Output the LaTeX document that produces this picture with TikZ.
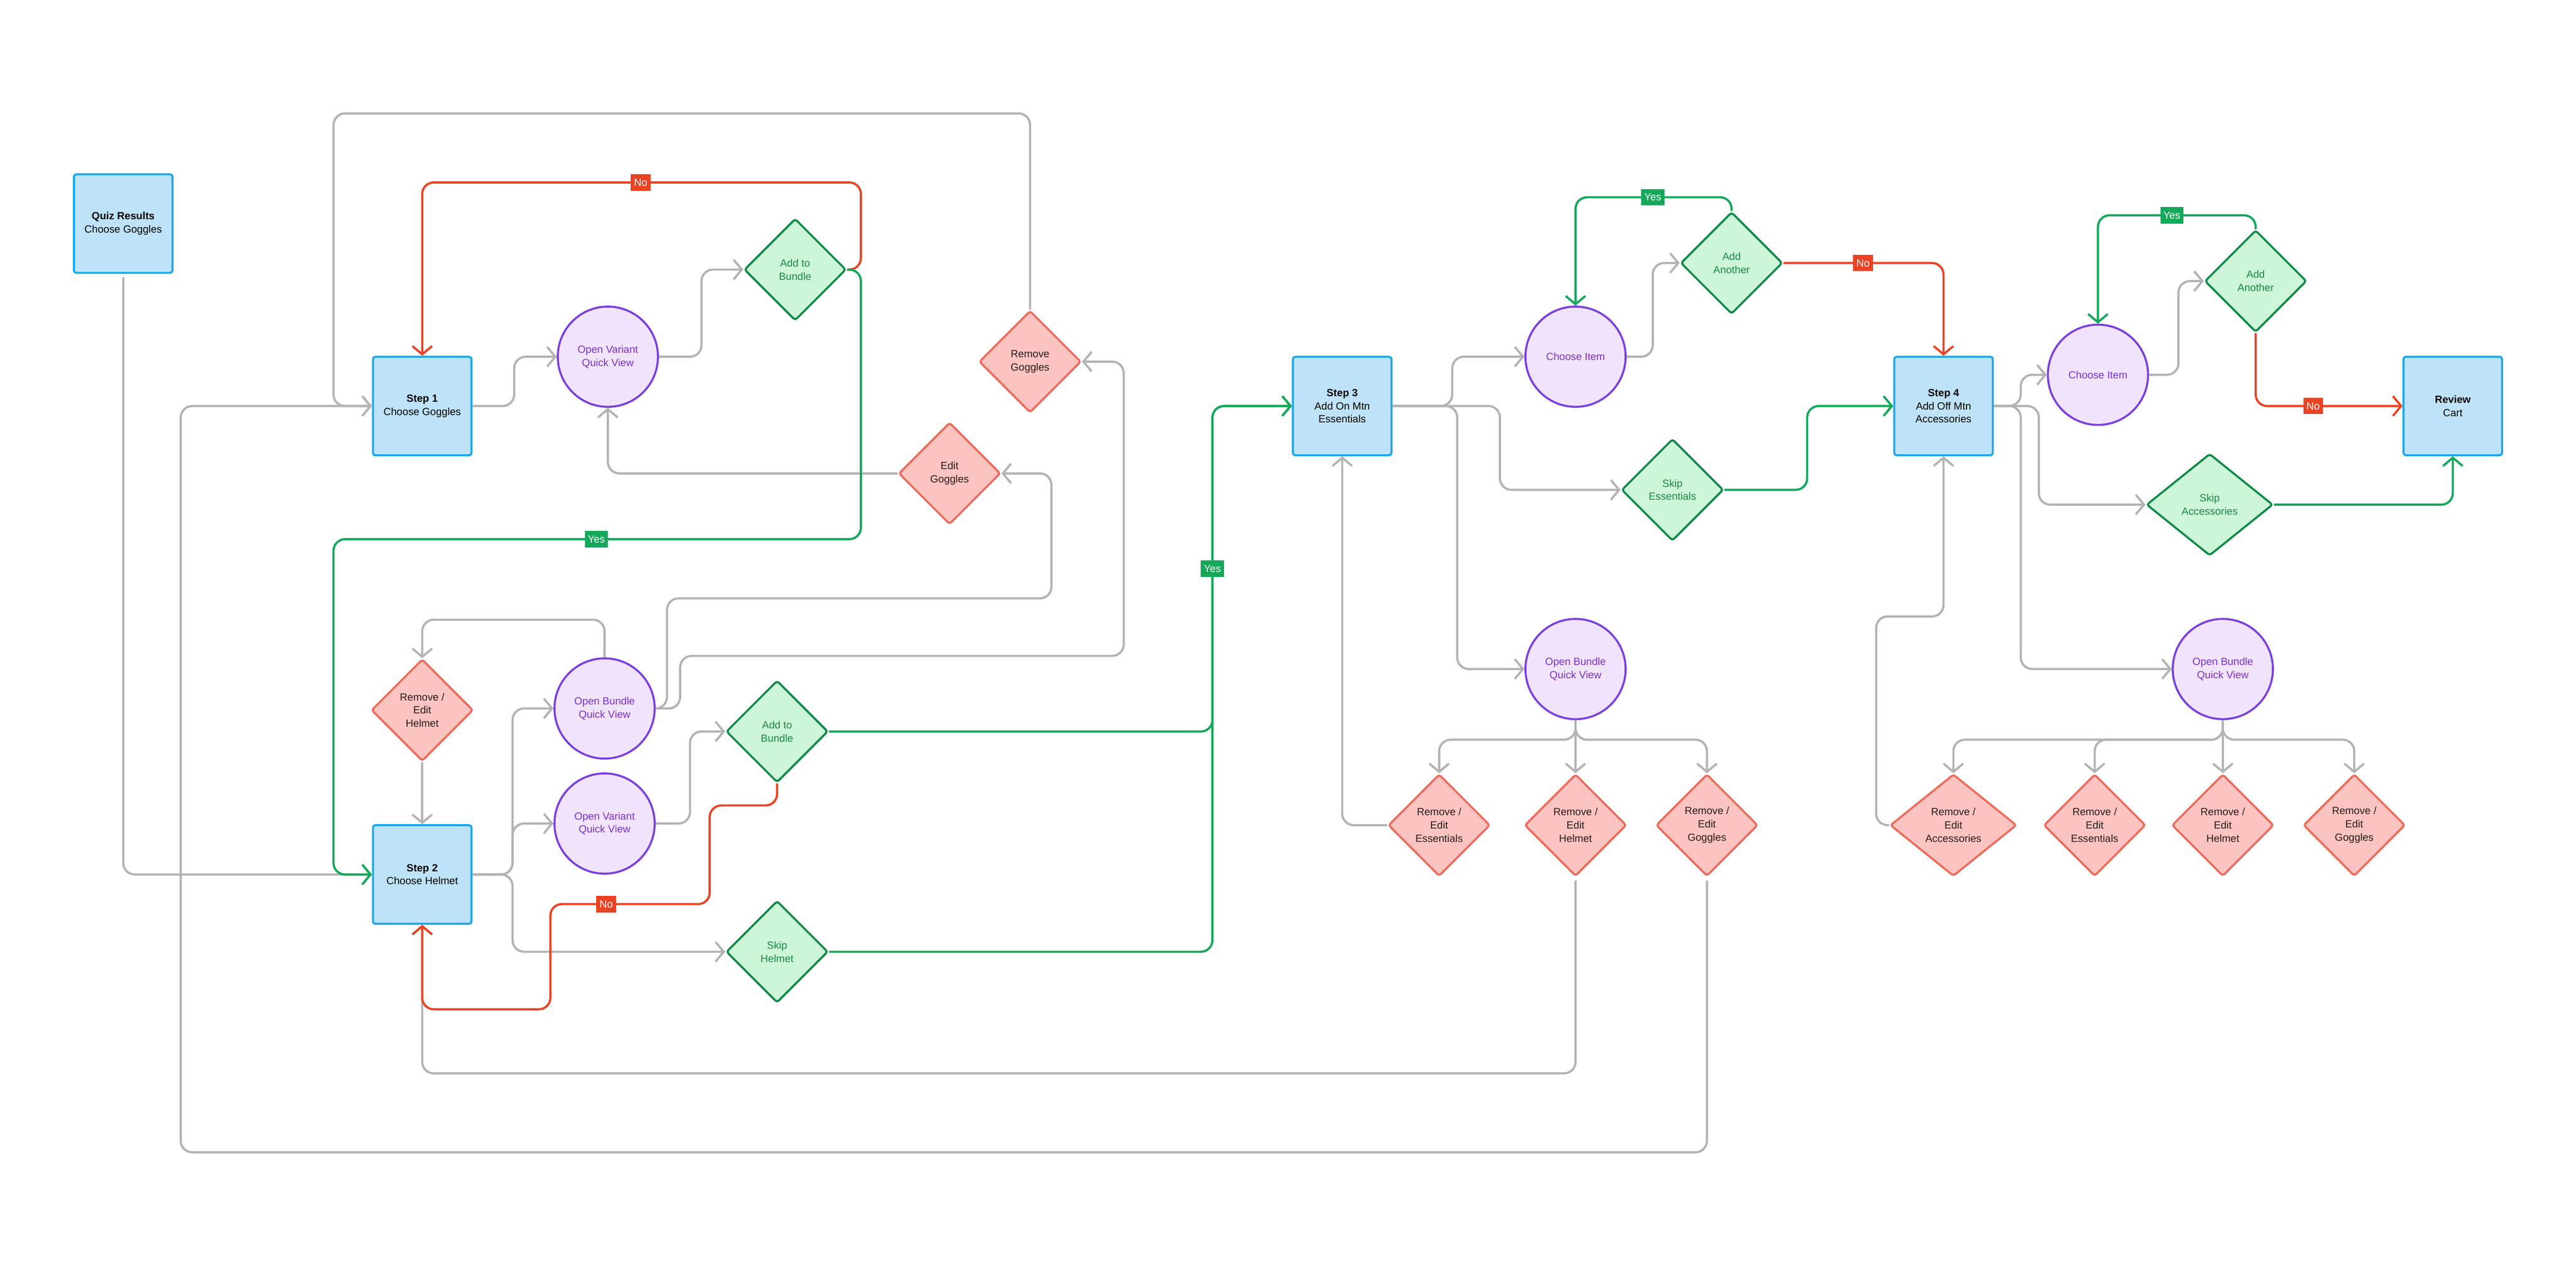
\documentclass[tikz,border=0pt]{standalone}
\usepackage{fontspec}
\setmainfont{Liberation Sans}
\usetikzlibrary{shapes.geometric,arrows.meta}
\definecolor{stepb}{HTML}{1EA7E8}\definecolor{stepf}{HTML}{BEE3F8}
\definecolor{viewb}{HTML}{7B3FE0}\definecolor{viewf}{HTML}{F0E4FD}\definecolor{viewt}{HTML}{7B2FD6}
\definecolor{goodb}{HTML}{0F8A47}\definecolor{goodf}{HTML}{CDF5D8}\definecolor{goodt}{HTML}{188A43}
\definecolor{badb}{HTML}{EF6A5A}\definecolor{badf}{HTML}{FBC4C1}\definecolor{badt}{HTML}{2A1A1A}
\definecolor{lg}{HTML}{B3B3B3}\definecolor{lr}{HTML}{EA4323}\definecolor{lgn}{HTML}{14A85A}
\tikzset{
 every node/.style={font=\fontsize{3.6}{4.6}\selectfont, align=center},
 stepbox/.style={rectangle, rounded corners=0.03cm, draw=stepb, fill=stepf, line width=0.7pt, minimum width=1.2cm, minimum height=1.2cm, inner sep=0},
 view/.style={circle, draw=viewb, fill=viewf, text=viewt, line width=0.7pt, minimum size=1.22cm, inner sep=0},
 good/.style={diamond, draw=goodb, fill=goodf, text=goodt, line width=0.7pt, minimum width=1.24cm, minimum height=1.24cm, inner sep=0, rounded corners=0.03cm},
 bad/.style={diamond, draw=badb, fill=badf, text=badt, line width=0.7pt, minimum width=1.24cm, minimum height=1.24cm, inner sep=0, rounded corners=0.03cm},
 lnk/.style={draw=lg, line width=0.75pt, rounded corners=0.14cm, -{Straight Barb[length=0.1cm,width=0.24cm]}},
 nolnk/.style={lnk, draw=lr}, yeslnk/.style={lnk, draw=lgn},
 tagno/.style={fill=lr, text=white, inner sep=0.6pt, minimum width=0.24cm, minimum height=0.2cm},
 tagyes/.style={fill=lgn, text=white, inner sep=0.6pt, minimum width=0.28cm, minimum height=0.2cm},
}
\begin{document}
\begin{tikzpicture}[x=0.02cm,y=-0.02cm]
\useasboundingbox (0,0) rectangle (1568,770.5);
% nodes
\node[stepbox] (qr) at (75,136) {\textbf{Quiz Results}\\Choose Goggles};
\node[stepbox] (s1) at (257,247) {\textbf{Step 1}\\Choose Goggles};
\node[view] (ov1) at (370,217) {Open Variant\\Quick View};
\node[good] (ab1) at (484,164) {Add to\\Bundle};
\node[bad] (rg) at (627,220) {Remove\\Goggles};
\node[bad] (eg) at (578,288) {Edit\\Goggles};
\node[bad] (reh) at (257,432) {Remove /\\Edit\\Helmet};
\node[stepbox] (s2) at (257,532) {\textbf{Step 2}\\Choose Helmet};
\node[view] (ob1) at (368,431) {Open Bundle\\Quick View};
\node[view] (ov2) at (368,501) {Open Variant\\Quick View};
\node[good] (ab2) at (473,445) {Add to\\Bundle};
\node[good] (sh) at (473,579) {Skip\\Helmet};
\node[stepbox] (s3) at (817,247) {\textbf{Step 3}\\Add On Mtn\\Essentials};
\node[view] (ci1) at (959,217) {Choose Item};
\node[good] (aa1) at (1054,160) {Add\\Another};
\node[good] (se) at (1018,298) {Skip\\Essentials};
\node[view] (ob2) at (959,407) {Open Bundle\\Quick View};
\node[bad] (r3e) at (876,502) {Remove /\\Edit\\Essentials};
\node[bad] (r3h) at (959,502) {Remove /\\Edit\\Helmet};
\node[bad] (r3g) at (1039,502) {Remove /\\Edit\\Goggles};
\node[stepbox] (s4) at (1183,247) {\textbf{Step 4}\\Add Off Mtn\\Accessories};
\node[view] (ci2) at (1277,228) {Choose Item};
\node[good] (aa2) at (1373,171) {Add\\Another};
\node[good, minimum width=1.54cm] (sa) at (1345,307) {Skip\\Accessories};
\node[stepbox] (rc) at (1493,247) {\textbf{Review}\\Cart};
\node[view] (ob3) at (1353,407) {Open Bundle\\Quick View};
\node[bad, minimum width=1.54cm] (r4a) at (1189,502) {Remove /\\Edit\\Accessories};
\node[bad] (r4e) at (1275,502) {Remove /\\Edit\\Essentials};
\node[bad] (r4h) at (1353,502) {Remove /\\Edit\\Helmet};
\node[bad] (r4g) at (1433,502) {Remove /\\Edit\\Goggles};
% gray links
\draw[lnk] ([yshift=-0.04cm]qr.south) -- (75,532) -- (s2.west);
\draw[lnk] (s1.east) -- (313,247) |- (ov1.west);
\draw[lnk] (ov1.east) -- (427,217) |- (ab1.west);
\draw[lnk] (rg.north) -- (627,69) -| (203,247) -- (s1.west);
\draw[lnk] ([yshift=-0.04cm]r3g.south) -- (1039,701) -| (110,247) -- (s1.west);
\draw[lnk] (eg.west) -| (ov1.south);
\draw[lnk] (ob1.east) -- (406,431) |- (640,364) |- (eg.east);
\draw[lnk] (ob1.east) -- (414,431) |- (684,399) |- (rg.east);
\draw[lnk] (ob1.north) |- (257,377) -- (reh.north);
\draw[lnk] (reh.south) -- (s2.north);
\draw[lnk] (s2.east) -- (312,532) |- (ob1.west);
\draw[lnk] (s2.east) -- (312,532) |- (ov2.west);
\draw[lnk] (s2.east) -- (312,532) |- (sh.west);
\draw[lnk] (ov2.east) -- (420,501) |- (ab2.west);
\draw[lnk] (s3.east) -- (884,247) |- (ci1.west);
\draw[lnk] (s3.east) -- (913,247) |- (se.west);
\draw[lnk] (s3.east) -- (887,247) |- (ob2.west);
\draw[lnk] (ci1.east) -- (1006,217) |- (aa1.west);
\draw[lnk] (ob2.south) -- (959,450) -| (r3e.north);
\draw[lnk] (ob2.south) -- (r3h.north);
\draw[lnk] (ob2.south) -- (959,450) -| (r3g.north);
\draw[lnk] (r3e.west) -| (s3.south);
\draw[lnk] ([yshift=-0.04cm]r3h.south) -- (959,653) -| (s2.south);
\draw[lnk] (s4.east) -- (1230,247) |- (ci2.west);
\draw[lnk] (s4.east) -- (1241,247) |- (sa.west);
\draw[lnk] (s4.east) -- (1230,247) |- (ob3.west);
\draw[lnk] (ci2.east) -- (1326,228) |- (aa2.west);
\draw[lnk] (ob3.south) -- (1353,450) -| (r4a.north);
\draw[lnk] (ob3.south) -- (1353,450) -| (r4e.north);
\draw[lnk] (ob3.south) -- (r4h.north);
\draw[lnk] (ob3.south) -- (1353,450) -| (r4g.north);
\draw[lnk] (r4a.west) -- (1142,502) |- (1183,375) -- (s4.south);
% red links
\draw[nolnk] (ab1.east) -- (524,164) |- (257,111) -- (s1.north);
\draw[nolnk] (ab2.south) |- (432,490) |- (335,550) |- (257,614) -- (s2.south);
\draw[nolnk] (aa1.east) -| (s4.north);
\draw[nolnk] (aa2.south) |- (rc.west);
% green links
\draw[yeslnk] (ab1.east) -- (524,164) |- (203,328) |- (s2.west);
\draw[yeslnk] (ab2.east) -| (738,247) -- (s3.west);
\draw[yeslnk] (sh.east) -| (738,247) -- (s3.west);
\draw[yeslnk] (aa1.north) |- (959,120) -- (ci1.north);
\draw[yeslnk] (se.east) -| (1100,247) -- (s4.west);
\draw[yeslnk] (aa2.north) |- (1277,131) -- (ci2.north);
\draw[yeslnk] (sa.east) -| (rc.south);
% tags
\node[tagno] (n1) at (390,111) {No};
\node[tagyes] (y1) at (363,328) {Yes};
\node[tagno] (n2) at (369,550) {No};
\node[tagyes] (y2) at (738,346) {Yes};
\node[tagyes] (y3) at (1006,120) {Yes};
\node[tagno] (n3) at (1134,160) {No};
\node[tagyes] (y4) at (1322,131) {Yes};
\node[tagno] (n4) at (1408,247) {No};
\end{tikzpicture}
\end{document}
